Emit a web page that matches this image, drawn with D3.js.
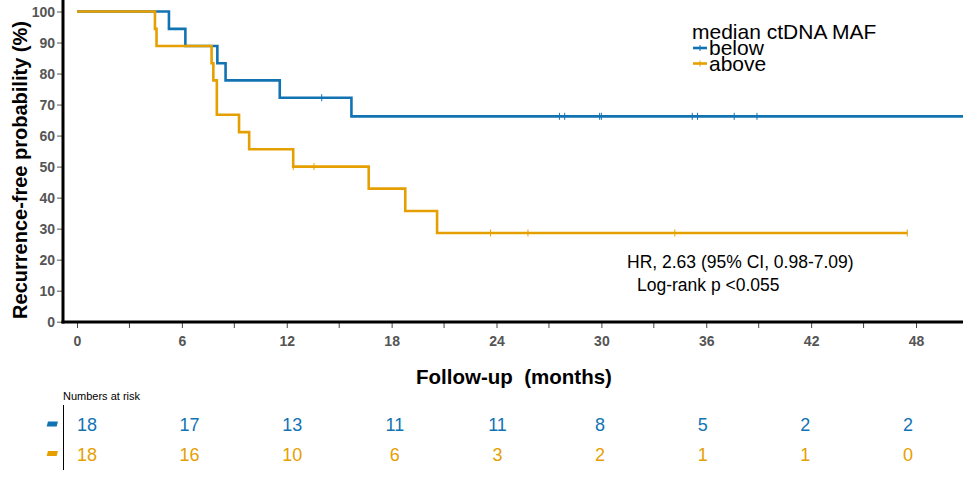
<!DOCTYPE html>
<html>
<head>
<meta charset="utf-8">
<script src="https://cdn.jsdelivr.net/npm/d3@7"></script>
<style>
  body { margin: 0; background: #fff; }
  svg { display: block; font-family: "Liberation Sans", Arial, sans-serif; }
</style>
</head>
<body>
<svg width="963" height="478"></svg>
<script>
// Kaplan-Meier steps (months, % recurrence-free)
const groups = ['below', 'above'];
const colors = ['#1273b3', '#e69f00'];

const belowTimes = [0, 5.26, 6.2, 8.03, 8.5, 11.6, 15.7];
const belowSurv = [100, 94.4, 88.9, 83.3, 77.8, 72.2, 66.2];
const belowEnd = 52;
const belowCensor = [14.0, 27.6, 27.9, 29.9, 30.0, 35.2, 35.5, 37.6, 38.9];

const aboveTimes = [0, 4.46, 4.55, 7.7, 7.8, 8.0, 9.27, 9.85, 12.37, 16.69, 18.78, 20.6];
const aboveSurv = [100, 94.4, 88.9, 83.3, 77.8, 66.7, 61.1, 55.6, 50.0, 42.9, 35.7, 28.6];
const aboveEnd = 47.5;
const aboveCensor = [12.37, 13.56, 23.66, 25.8, 34.2, 47.5];

const xTicks = [0, 6, 12, 18, 24, 30, 36, 42, 48];
const xMinor = [3, 9, 15, 21, 27, 33, 39, 45];
const yTicks = [0, 10, 20, 30, 40, 50, 60, 70, 80, 90, 100];

const riskTimes = [0, 6, 12, 18, 24, 30, 36, 42, 48];
const riskBelow = [18, 17, 13, 11, 11, 8, 5, 2, 2];
const riskAbove = [18, 16, 10, 6, 3, 2, 1, 1, 0];

const svg = d3.select('svg');

const x = d3.scaleLinear().domain([0, 48]).range([77, 916]);
const y = d3.scaleLinear().domain([0, 100]).range([321.7, 11.5]);
const plotLeft = 63, plotRight = 963, plotTop = 0, plotBottom = 322;

svg.append('clipPath').attr('id', 'plot')
  .append('rect').attr('x', plotLeft).attr('y', plotTop)
  .attr('width', plotRight - plotLeft).attr('height', plotBottom - plotTop + 2);

const series = [
  { times: belowTimes, surv: belowSurv, end: belowEnd, censor: belowCensor },
  { times: aboveTimes, surv: aboveSurv, end: aboveEnd, censor: aboveCensor }
];

const line = d3.line()
  .x(d => x(d[0]))
  .y(d => y(d[1]))
  .curve(d3.curveStepAfter);

const curves = svg.append('g').attr('clip-path', 'url(#plot)');

series.forEach((s, i) => {
  const pts = s.times.map((t, j) => [t, s.surv[j]]);
  pts.push([s.end, s.surv[s.surv.length - 1]]);
  curves.append('path')
    .attr('d', line(pts))
    .attr('fill', 'none')
    .attr('stroke', colors[i])
    .attr('stroke-width', 2.6);

  const survAt = t => s.surv[d3.bisectRight(s.times, t) - 1];
  curves.selectAll('.c' + i)
    .data(s.censor)
    .enter().append('line')
    .attr('class', 'c' + i)
    .attr('x1', d => x(d)).attr('x2', d => x(d))
    .attr('y1', d => y(survAt(d)) - 3.5)
    .attr('y2', d => y(survAt(d)) + 3.5)
    .attr('stroke', colors[i])
    .attr('stroke-width', 1);
});

// axes
const yAxis = d3.axisLeft(y).tickValues(yTicks).tickSize(6).tickPadding(2);
const gy = svg.append('g').attr('transform', `translate(${plotLeft},0)`).call(yAxis);
gy.select('.domain').remove();
gy.selectAll('.tick line').attr('stroke', '#555').attr('stroke-width', 1);
gy.selectAll('.tick text')
  .attr('fill', '#555').style('font-weight', 'bold').style('font-size', '14px')
  .attr('dy', '0.36em');

const xAxis = d3.axisBottom(x).tickValues(xTicks).tickSize(6).tickPadding(8);
const gx = svg.append('g').attr('transform', `translate(0,${plotBottom})`).call(xAxis);
gx.select('.domain').remove();
gx.selectAll('.tick line').attr('stroke', '#444').attr('stroke-width', 1);
gx.selectAll('.tick text')
  .attr('fill', '#555').style('font-weight', 'bold').style('font-size', '14px');
gx.selectAll('.minor')
  .data(xMinor)
  .enter().append('line')
  .attr('x1', d => x(d)).attr('x2', d => x(d))
  .attr('y1', 0).attr('y2', 6)
  .attr('stroke', '#444').attr('stroke-width', 1);

svg.append('line')
  .attr('x1', plotLeft).attr('x2', plotLeft).attr('y1', plotTop).attr('y2', plotBottom + 1.5)
  .attr('stroke', '#000').attr('stroke-width', 3);
svg.append('line')
  .attr('x1', plotLeft - 1.5).attr('x2', plotRight).attr('y1', plotBottom).attr('y2', plotBottom)
  .attr('stroke', '#000').attr('stroke-width', 3);

// axis titles
svg.append('text')
  .attr('transform', 'translate(27,170) rotate(-90)')
  .attr('text-anchor', 'middle')
  .style('font-weight', 'bold').style('font-size', '20px')
  .text('Recurrence-free probability (%)');

svg.append('text')
  .attr('x', 514).attr('y', 384)
  .attr('text-anchor', 'middle')
  .style('font-weight', 'bold').style('font-size', '20.5px')
  .style('white-space', 'pre')
  .text('Follow-up  (months)');

// legend
const legend = svg.append('g');
legend.append('text').attr('x', 692).attr('y', 39)
  .style('font-size', '21px').text('median ctDNA MAF');
groups.forEach((g, i) => {
  const ly = 48 + i * 15.5;
  legend.append('line')
    .attr('x1', 693).attr('x2', 707).attr('y1', ly).attr('y2', ly)
    .attr('stroke', colors[i]).attr('stroke-width', 2.6);
  legend.append('line')
    .attr('x1', 700).attr('x2', 700).attr('y1', ly - 3).attr('y2', ly + 3)
    .attr('stroke', colors[i]).attr('stroke-width', 1);
  legend.append('text').attr('x', 709).attr('y', ly + 7)
    .style('font-size', '21px').text(g);
});

// stats
svg.append('text').attr('x', 627).attr('y', 268)
  .style('font-size', '17.5px').text('HR, 2.63 (95% CI, 0.98-7.09)');
svg.append('text').attr('x', 637).attr('y', 291)
  .style('font-size', '17.5px').text('Log-rank p <0.055');

// numbers at risk
const xr = d3.scaleLinear().domain([0, 48]).range([87, 908]);
svg.append('text').attr('x', 63).attr('y', 400)
  .style('font-size', '11px').text('Numbers at risk');
svg.append('line')
  .attr('x1', 63.5).attr('x2', 63.5).attr('y1', 405).attr('y2', 470)
  .attr('stroke', '#000').attr('stroke-width', 1);

[riskBelow, riskAbove].forEach((vals, i) => {
  const ry = 424 + i * 29.5;
  svg.append('rect')
    .attr('x', 47).attr('y', ry - 2.5).attr('width', 10).attr('height', 5)
    .attr('fill', colors[i])
    .attr('transform', `translate(${ry * 0.25},0) skewX(-14)`);
  svg.selectAll('.r' + i)
    .data(vals)
    .enter().append('text')
    .attr('class', 'r' + i)
    .attr('x', (d, j) => xr(riskTimes[j]))
    .attr('y', ry + 7)
    .attr('text-anchor', 'middle')
    .attr('fill', colors[i])
    .style('font-size', '18px')
    .text(d => d);
});
</script>
</body>
</html>
